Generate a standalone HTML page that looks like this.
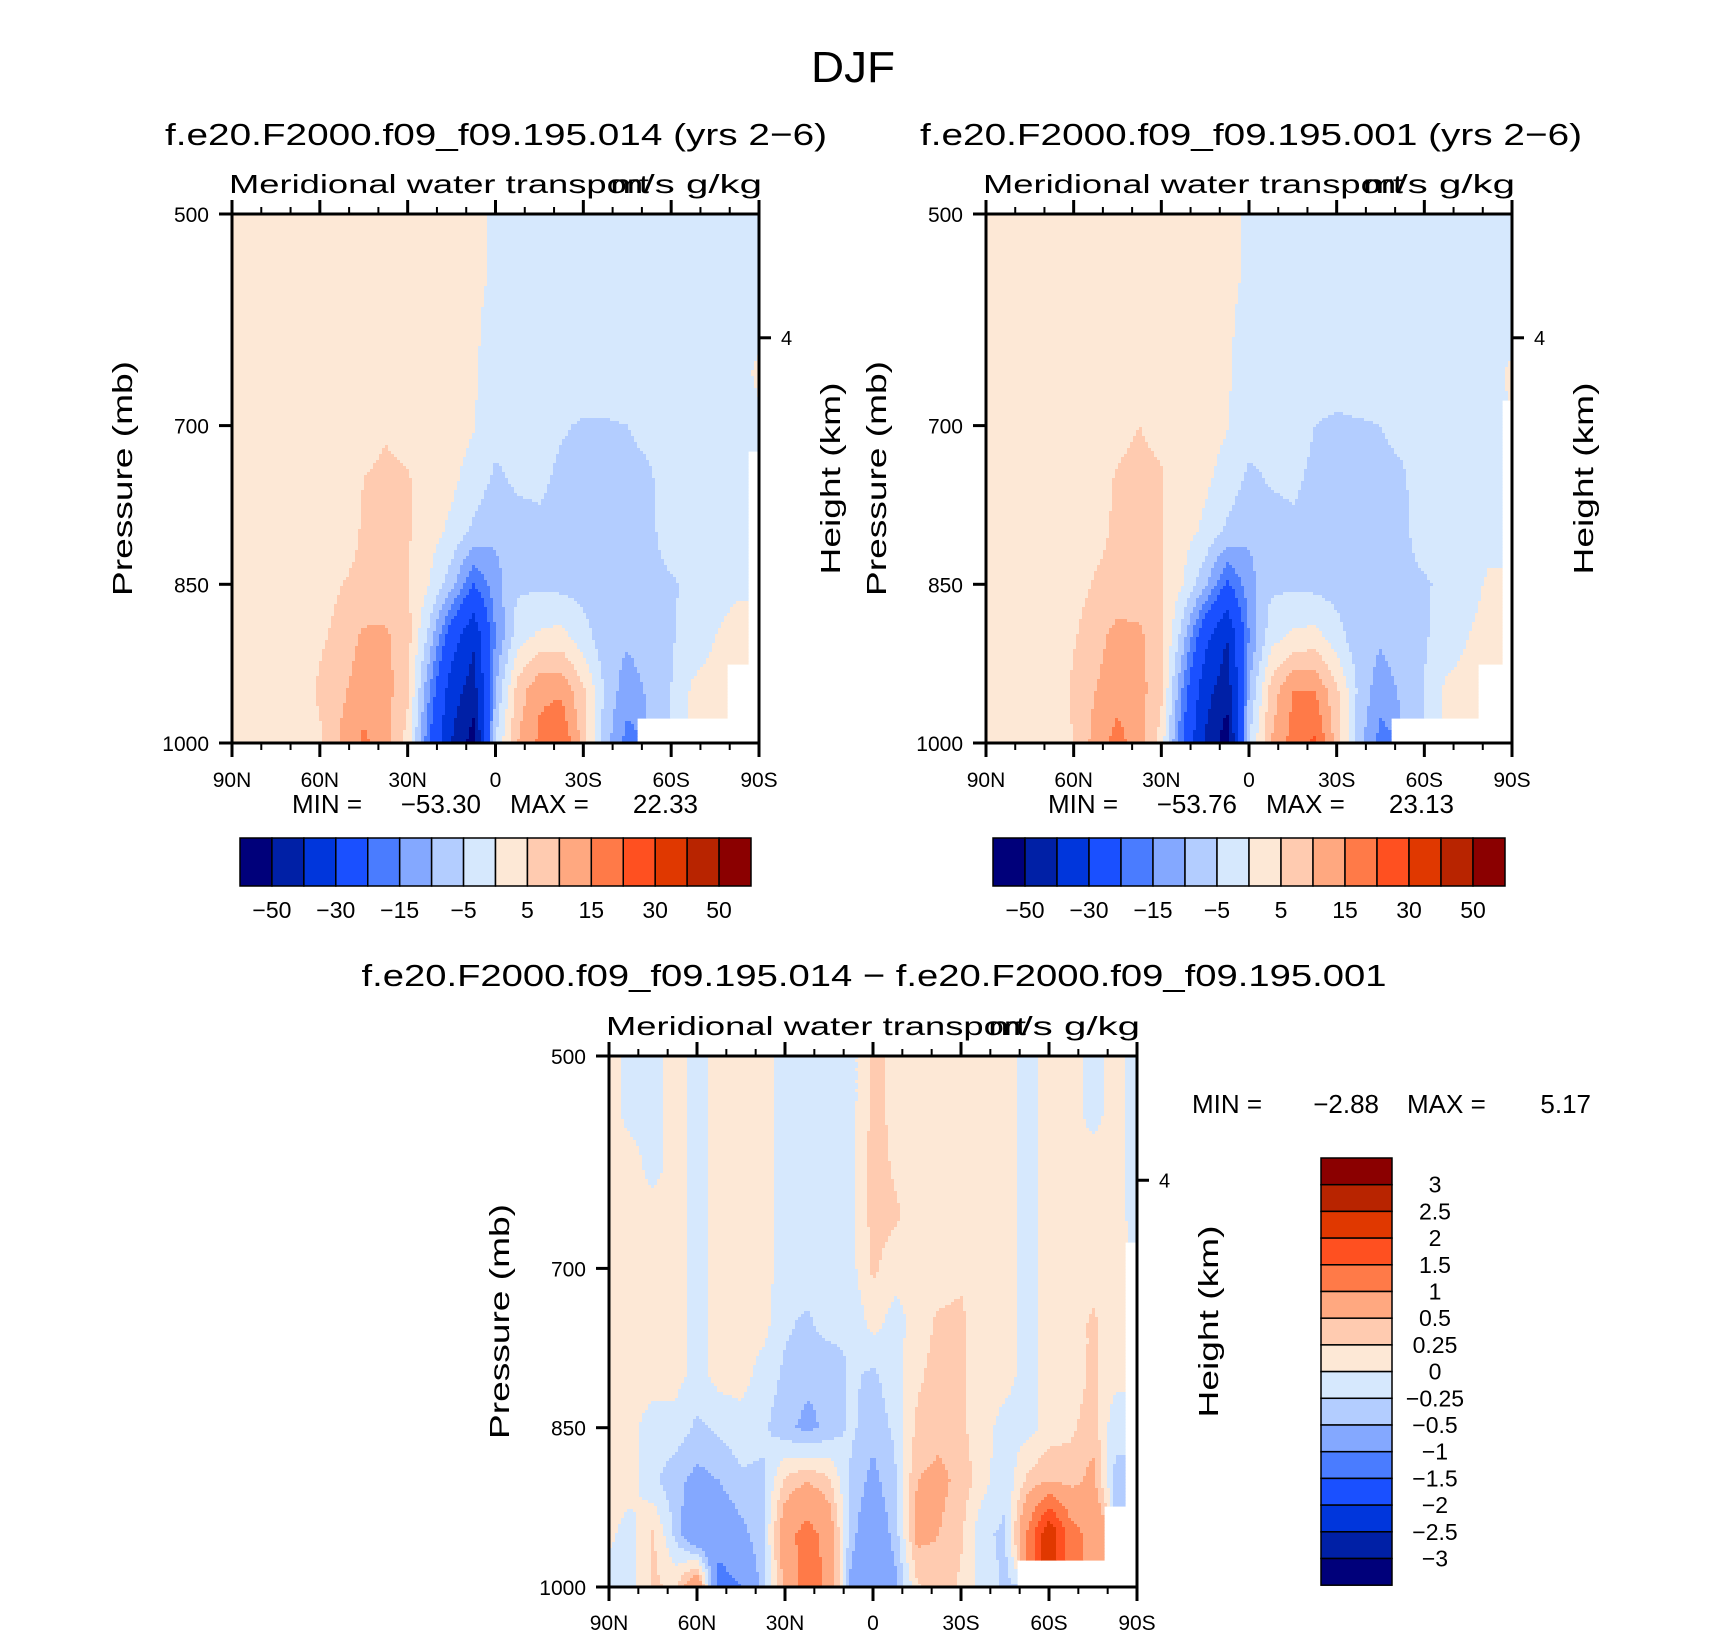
<!DOCTYPE html>
<html><head><meta charset="utf-8"><title>DJF</title>
<style>
html,body{margin:0;padding:0;background:#fff;}
svg{display:block;font-family:"Liberation Sans",sans-serif;}
text{fill:#000;}
</style></head>
<body>
<svg id="chart" width="1710" height="1636" viewBox="0 0 1710 1636" xmlns="http://www.w3.org/2000/svg">
<rect x="0" y="0" width="1710" height="1636" fill="#fff"/>
<text x="853" y="82" font-size="44" text-anchor="middle" textLength="84" lengthAdjust="spacingAndGlyphs">DJF</text>
<text x="496" y="145" font-size="31" text-anchor="middle" textLength="662" lengthAdjust="spacingAndGlyphs">f.e20.F2000.f09_f09.195.014 (yrs 2−6)</text>
<text x="1251" y="145" font-size="31" text-anchor="middle" textLength="662" lengthAdjust="spacingAndGlyphs">f.e20.F2000.f09_f09.195.001 (yrs 2−6)</text>
<text x="874" y="986" font-size="31" text-anchor="middle" textLength="1025" lengthAdjust="spacingAndGlyphs">f.e20.F2000.f09_f09.195.014 − f.e20.F2000.f09_f09.195.001</text>
</svg>
<script>
// ---------- data ----------
const lats = [90,82.5,75,67.5,60,52.5,45,37.5,30,22.5,15,7.5,0,-7.5,-15,-22.5,-30,-37.5,-45,-52.5,-60,-67.5,-75,-82.5,-90];
const pressures = [500,550,600,650,700,750,800,850,900,950,1000];
const N = NaN;
const leftField = [
[2,2,2,2,2,2,2,2,2,2,2,2,-1,-2,-2,-2,-2,-2,-2,-2,-2,-2,-2,-2,-2],
[2,2,2,2,2,2,2,2,2,2,2,2,-1,-2,-2,-2,-2,-2,-2,-2,-2,-2,-2,-2,-2],
[2,2,2,2,2,2,2,2,2,2,2,1,-2,-2,-2,-2,-2,-2,-2,-2,-2,-2,-2,-2,-2],
[2,2,2,2,2,2,2,2,2,2,2,0.5,-2,-2,-2,-2,-2,-2,-2,-2,-2,-2,-2,-2,1],
[2,2,2,2,2,2.5,3,4.5,3,2,2,0.3,-3,-3,-3,-4.5,-5.5,-5.5,-5,-4,-3,-2,-2,-2,-1],
[2,2,2,2,2,3,5,6,5.5,2,1,-2,-6,-4,-4,-6,-7,-6.5,-6,-5.5,-3,-2,-2,-2,N],
[2,2,2,2,2,3,5.5,6,5.5,2,-1,-6,-9,-7,-6,-7,-7,-7,-6.5,-6,-3,-2,-2,-2,N],
[2,2,2,2,2.5,5,6,6.5,5.5,0,-8,-20,-12,-6,-6,-6.5,-7,-7,-7,-6,-5.5,-4,-2,-1,N],
[2,2,2,2,4,7,11,11,7,-7,-25,-38,-15,-2,1,2,-3,-8,-9,-7,-5.5,-3,0,2,N],
[2,2,2,1,6,9,13,12,6,-15,-35,-45,-10,7,14,14,6,-6,-13,-9,-5,1,2,N,N],
[2,2,2,2,4,11,16,12,3,-20,-40,-55,-5,10,16,20,8,-8,-17,N,N,N,N,N,N]
];
const rightField = [
[2,2,2,2,2,2,2,2,2,2,2,2,-1,-2,-2,-2,-2,-2,-2,-2,-2,-2,-2,-2,-2],
[2,2,2,2,2,2,2,2,2,2,2,2,-1,-2,-2,-2,-2,-2,-2,-2,-2,-2,-2,-2,-2],
[2,2,2,2,2,2,2,2,2,2,2,1,-2,-2,-2,-2,-2,-2,-2,-2,-2,-2,-2,-2,-2],
[2,2,2,2,2,2,2,2,2,2,2,0.5,-2,-2,-2,-2,-2,-2,-2,-2,-2,-2,-2,-2,1],
[2,2,2,2,2,2.5,3.5,5,3.5,2,2,0.3,-3,-3,-3,-5,-6,-5.5,-5,-4,-3,-2,-2,-2,N],
[2,2,2,2,2,3,5.5,6.5,5.5,2,1,-2,-6,-4.5,-4,-6,-7,-6.5,-6,-5.5,-3,-2,-2,-2,N],
[2,2,2,2,2,3.5,6,6.5,5.5,2,-1,-6,-9,-7,-6,-7,-7,-7,-6.5,-6,-3,-2,-2,-2,N],
[2,2,2,2,3,5.5,6.5,7,5.5,0,-9,-21,-12,-6,-6,-6.5,-7,-7,-7,-6,-5.5,-4,-2,1,N],
[2,2,2,2,4.5,8,12,11,7,-8,-27,-40,-15,-2,1,2,-3,-8,-9,-7,-5.5,-3,0,2,N],
[2,2,2,1,6,10,13,12,6,-16,-36,-46,-10,7,15,15,6,-6,-13,-9,-5,1,2,N,N],
[2,2,2,2,5,12,17,12,3,-21,-41,-56,-5,10,17,21,8,-8,-17,N,N,N,N,N,N]
];
const diffField = [
[0.1,-0.1,-0.1,0.1,-0.1,0.1,0.1,0.1,-0.1,-0.1,-0.1,-0.1,0.3,0.2,0.1,0.1,0.1,0.1,0.1,-0.1,0.1,0.1,-0.1,0.1,-0.1],
[0.1,-0.1,-0.1,0.1,-0.1,0.1,0.1,0.1,-0.1,-0.1,-0.1,-0.1,0.3,0.2,0.1,0.1,0.1,0.1,0.1,-0.1,0.1,0.1,-0.1,0.1,-0.1],
[0.1,0.1,-0.1,0.1,-0.1,0.1,0.1,0.1,-0.1,-0.1,-0.1,-0.1,0.4,0.2,0.1,0.1,0.1,0.1,0.1,-0.1,0.1,0.1,0.1,0.1,-0.1],
[0.1,0.1,0.1,0.1,-0.1,0.1,0.1,0.1,-0.1,-0.1,-0.1,-0.1,0.35,0.3,0.1,0.1,0.1,0.1,0.1,-0.1,0.1,0.1,0.1,0.1,-0.1],
[0.1,0.1,0.1,0.1,-0.1,0.1,0.1,0.1,-0.1,-0.1,-0.1,-0.1,0.3,0.1,0.1,0.1,0.2,0.1,0.1,-0.1,0.1,0.1,0.1,0.1,N],
[0.1,0.1,0.1,0.1,-0.1,0.1,0.1,0.1,-0.2,-0.3,-0.1,-0.2,0.1,-0.1,0.1,0.3,0.3,0.1,0.1,-0.1,0.1,0.1,0.3,0.1,N],
[0.1,0.1,0.1,0.1,-0.1,0.1,0.1,-0.1,-0.3,-0.4,-0.5,-0.2,-0.3,-0.1,0.2,0.35,0.3,0.1,0.1,-0.1,0.1,0.1,0.3,0.1,N],
[0.1,0.05,-0.1,-0.1,-0.3,-0.2,-0.1,-0.2,-0.4,-0.6,-0.4,-0.2,-0.4,-0.2,0.3,0.4,0.3,0.1,-0.1,-0.1,0.1,0.2,0.4,-0.2,N],
[0.1,0.1,-0.2,-0.4,-0.6,-0.5,-0.3,-0.3,0.3,0.5,0.3,-0.3,-0.6,-0.3,0.5,0.6,0.4,0.1,-0.2,0.3,0.5,0.4,0.6,-0.3,N],
[0.05,-0.1,0.3,-0.3,-1.0,-0.8,-0.6,-0.3,0.8,1.2,0.8,-0.4,-0.8,-0.4,0.6,0.5,0.3,-0.2,-0.3,1.0,2.5,1.2,0.8,N,N],
[-0.1,-0.1,0.3,0.2,1.0,-1.2,-1.0,-0.4,0.6,1.3,0.9,-0.6,-0.7,-0.6,0.2,0.4,0.2,-0.1,-0.3,N,N,N,N,N,N]
];
const fullLevels = [-50,-40,-30,-20,-15,-10,-5,0,5,10,15,20,30,40,50];
const fullLevelLabels = ["−50","−30","−15","−5","5","15","30","50"];
const diffLevels = [-3,-2.5,-2,-1.5,-1,-0.5,-0.25,0,0.25,0.5,1,1.5,2,2.5,3];
const diffLevelLabels = ["3","2.5","2","1.5","1","0.5","0.25","0","−0.25","−0.5","−1","−1.5","−2","−2.5","−3"];
const xTickLats = [90,60,30,0,-30,-60,-90];
const xTickLabels = ["90N","60N","30N","0","30S","60S","90S"];
const yTickVals = [500,700,850,1000];
const minMaxLeft = ["−53.30","22.33"];
const minMaxRight = ["−53.76","23.13"];
const minMaxDiff = ["−2.88","5.17"];
const palette = ["#00007a","#0020a6","#0036dc","#1a50ff","#4a7cff","#84a8ff","#b3cdff","#d6e8fd","#fde8d6","#ffcbb0","#ffa880","#ff7a48","#ff5020","#e03800","#b82400","#8b0000"];

// ---------- helpers ----------
const NS = 'http://www.w3.org/2000/svg';
const svg = document.getElementById('chart');
function mk(tag, attrs, parent){
  const e = document.createElementNS(NS, tag);
  for (const k in attrs) e.setAttribute(k, attrs[k]);
  (parent || svg).appendChild(e);
  return e;
}
function fieldValue(G, fi, fj){
  const ni = Math.min(24, Math.max(0, Math.round(fi)));
  const nj = Math.min(10, Math.max(0, Math.round(fj)));
  if (isNaN(G[nj][ni])) return NaN;
  let i0 = Math.min(23, Math.max(0, Math.floor(fi)));
  let j0 = Math.min(9, Math.max(0, Math.floor(fj)));
  const tx = fi - i0, ty = fj - j0;
  let s = 0, ws = 0;
  const c = [[j0,i0,(1-tx)*(1-ty)],[j0,i0+1,tx*(1-ty)],[j0+1,i0,(1-tx)*ty],[j0+1,i0+1,tx*ty]];
  for (const [j,i,w] of c){ const v = G[j][i]; if (!isNaN(v)){ s += v*w; ws += w; } }
  return ws > 0 ? s/ws : NaN;
}
function levelIndex(v, levels){ let k = 0; for (const b of levels) if (v >= b) k++; return k; }

function drawPanel(P){
  const w = P.x1 - P.x0, h = P.y1 - P.y0;
  const xScale = lat => P.x0 + (90 - lat) / 180 * w;
  const yScale = p => P.y0 + (p - 500) / 500 * h;
  const g = mk('g', {});
  
  
  const cs = 3;
  const ny = Math.ceil(h / cs), nx = Math.ceil(w / cs);
  for (let r = 0; r < ny; r++){
    const y = P.y0 + r*cs, hh = Math.min(cs, P.y1 - y);
    const p = 500 + (y + hh/2 - P.y0) / h * 500;
    const fj = (p - pressures[0]) / (pressures[1] - pressures[0]);
    let runStart = 0, runK = null;
    const flush = (endC) => {
      if (runK === null || runK < 0) return;
      const xa = P.x0 + runStart*cs, xb = Math.min(P.x1, P.x0 + endC*cs);
      const rc = mk('rect', {x: xa, y: y, width: xb - xa + 0.6, height: hh + 0.6, fill: palette[runK]}, g);
      
      
    };
    for (let c = 0; c < nx; c++){
      const xc = P.x0 + c*cs + cs/2;
      const lat = 90 - (xc - P.x0) / w * 180;
      const fi = (lats[0] - lat) / (lats[0] - lats[1]);
      const v = fieldValue(P.field, fi, fj);
      const k = isNaN(v) ? -1 : levelIndex(v, P.levels);
      if (k !== runK){ flush(c); runStart = c; runK = k; }
    }
    flush(nx);
  }
  const ax = mk('g', {});
  
  
  const frame = mk('rect', {x: P.x0, y: P.y0, width: w, height: h, fill: 'none', stroke: '#000', 'stroke-width': 3}, ax);
  
  
  for (let lat = 90; lat >= -90; lat -= 10){
    const x = xScale(lat);
    const major = (lat % 30 === 0);
    const len = major ? 14 : 7;
    const tb = mk('line', {x1: x, y1: P.y1, x2: x, y2: P.y1 + len, stroke: '#000', 'stroke-width': major ? 3 : 2}, ax);
    
    
    const tt = mk('line', {x1: x, y1: P.y0, x2: x, y2: P.y0 - len, stroke: '#000', 'stroke-width': major ? 3 : 2}, ax);
    
    
  }
  xTickLats.forEach((lat, i) => {
    const t = mk('text', {x: xScale(lat), y: P.xLabelY, 'font-size': 21, 'text-anchor': 'middle'}, ax);
    t.textContent = xTickLabels[i];
    
    
  });
  yTickVals.forEach(pv => {
    const y = yScale(pv);
    const tl = mk('line', {x1: P.x0 - 13, y1: y, x2: P.x0, y2: y, stroke: '#000', 'stroke-width': 3}, ax);
    
    
    const t = mk('text', {x: P.x0 - 23, y: y + 8, 'font-size': 21, 'text-anchor': 'end'}, ax);
    t.textContent = String(pv);
    
    
  });
  const hy = P.y0 + 0.234*h;
  const ht = mk('line', {x1: P.x1, y1: hy, x2: P.x1 + 12, y2: hy, stroke: '#000', 'stroke-width': 3}, ax);
  
  
  const hl = mk('text', {x: P.x1 + 22, y: hy + 7, 'font-size': 20}, ax);
  hl.textContent = '4';
  
  
  const mer = mk('text', {x: P.x0 - 3, y: P.y0 - 21, 'font-size': 26, textLength: 420, lengthAdjust: 'spacingAndGlyphs'}, ax);
  mer.textContent = 'Meridional water transport';
  
  
  const un = mk('text', {x: P.x1 + 3, y: P.y0 - 21, 'font-size': 26, 'text-anchor': 'end', textLength: 152, lengthAdjust: 'spacingAndGlyphs'}, ax);
  un.textContent = 'm/s g/kg';
  
  
  const cy = P.y0 + h*0.5;
  const pl = mk('text', {x: 0, y: 0, 'font-size': 28, 'text-anchor': 'middle', textLength: 235, lengthAdjust: 'spacingAndGlyphs', transform: `translate(${P.x0 - 100},${cy}) rotate(-90)`}, ax);
  pl.textContent = 'Pressure (mb)';
  
  
  const hl2 = mk('text', {x: 0, y: 0, 'font-size': 28, 'text-anchor': 'middle', textLength: 192, lengthAdjust: 'spacingAndGlyphs', transform: `translate(${P.x1 + 81},${cy}) rotate(-90)`}, ax);
  hl2.textContent = 'Height (km)';
  
  
}

function minMaxText(g, mm, xMin, xMinEnd, xMax, xMaxEnd, y){
  const a = mk('text', {x: xMin, y: y, 'font-size': 26}, g);
  a.textContent = 'MIN =';
  
  
  const b = mk('text', {x: xMinEnd, y: y, 'font-size': 26, 'text-anchor': 'end'}, g);
  b.textContent = mm[0];
  
  
  const c = mk('text', {x: xMax, y: y, 'font-size': 26}, g);
  c.textContent = 'MAX =';
  
  
  const d = mk('text', {x: xMaxEnd, y: y, 'font-size': 26, 'text-anchor': 'end'}, g);
  d.textContent = mm[1];
  
  
}

function hColorbar(x0, x1, y0, y1, levels, labels, mm, dx, name){
  const g = mk('g', {});
  
  
  const n = levels.length + 1, bw = (x1 - x0) / n;
  for (let k = 0; k < n; k++){
    const r = mk('rect', {x: x0 + k*bw, y: y0, width: bw, height: y1 - y0, fill: palette[k], stroke: '#000', 'stroke-width': 1.5}, g);
    
    
  }
  labels.forEach((lb, i) => {
    const t = mk('text', {x: x0 + (1 + 2*i)*bw, y: y1 + 32, 'font-size': 23, 'text-anchor': 'middle'}, g);
    t.textContent = lb;
    
    
  });
  minMaxText(g, mm, 292 + dx, 481 + dx, 510 + dx, 698 + dx, 813);
}

drawPanel({name: 'left-panel', field: leftField, levels: fullLevels, x0: 232, x1: 759, y0: 214, y1: 743, xLabelY: 787});
drawPanel({name: 'right-panel', field: rightField, levels: fullLevels, x0: 986, x1: 1512, y0: 214, y1: 743, xLabelY: 787});
drawPanel({name: 'difference-panel', field: diffField, levels: diffLevels, x0: 609, x1: 1137, y0: 1056, y1: 1587, xLabelY: 1630});
hColorbar(240, 751, 838, 886, fullLevels, fullLevelLabels, minMaxLeft, 0, 'left-colorbar');
hColorbar(993, 1505, 838, 886, fullLevels, fullLevelLabels, minMaxRight, 756, 'right-colorbar');

(function(){
  const g = mk('g', {});
  
  
  const x0 = 1321, x1 = 1392, y0 = 1158, bh = 26.7, n = diffLevels.length + 1;
  for (let k = 0; k < n; k++){
    const r = mk('rect', {x: x0, y: y0 + k*bh, width: x1 - x0, height: bh, fill: palette[n - 1 - k], stroke: '#000', 'stroke-width': 1.5}, g);
    
    
  }
  diffLevelLabels.forEach((lb, i) => {
    const t = mk('text', {x: 1435, y: y0 + (i + 1)*bh + 8, 'font-size': 23, 'text-anchor': 'middle'}, g);
    t.textContent = lb;
    
    
  });
  minMaxText(g, minMaxDiff, 1192, 1379, 1407, 1591, 1113);
})();
</script>
</body></html>
